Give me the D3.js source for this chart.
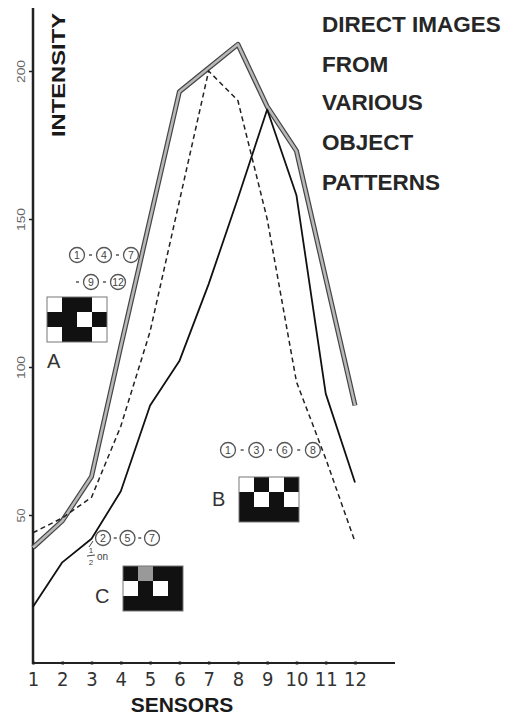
<!DOCTYPE html>
<html>
<head>
    <title>Direct images</title>
    <script src="https://d3js.org/d3.v7.min.js"></script>
    <style>
        body { margin: 0; background: #fff; }
    </style>
</head>
<body>
    <svg width="510" height="717" id="mainSvg"></svg>
    <script>
        // sensor positions and the three traces
        const sensors = [1, 2, 3, 4, 5, 6, 7, 8, 9, 10, 11, 12];
        const seriesA = [39, 48, 63, 107, 150, 193, 201, 209, 188, 173, 130, 87];
        const seriesDashed = [44, 49, 56, 80, 112, 156, 200, 190, 150, 95, 69, 41];
        const seriesSolid = [19, 34, 42, 58, 87, 102, 128, 157, 187, 158, 91, 61];
        const yTicks = [50, 100, 150, 200];
        const titleLines = ["DIRECT IMAGES", "FROM", "VARIOUS", "OBJECT", "PATTERNS"];

        // object patterns: 1 = dark, 0 = lit, 0.5 = half on
        const patternA = [[0, 1, 1, 0], [1, 1, 0, 1], [0, 1, 1, 0]];
        const patternB = [[0, 1, 0, 1], [1, 0, 1, 0], [1, 1, 1, 1]];
        const patternC = [[1, 0.5, 1, 1], [0, 1, 0, 1], [1, 1, 1, 1]];
        const labelsA = [[1, 4, 7], [9, 12]];
        const labelsB = [[1, 3, 6, 8]];
        const labelsC = [[2, 5, 7]];

        const svg = d3.select("#mainSvg");
        const font = "'Liberation Sans', Arial, sans-serif";

        const xScale = d3.scaleLinear().domain([1, 12]).range([33, 355]);
        const yScale = d3.scaleLinear().domain([0, 200]).range([663, 71]);

        // axes
        const yAxis = d3.axisLeft(yScale).tickValues(yTicks).tickSize(4).tickFormat(d3.format("d"));
        const yG = svg.append("g").attr("transform", "translate(33,0)").call(yAxis);
        yG.select(".domain").remove();
        yG.selectAll(".tick line").attr("stroke", "#222").attr("stroke-width", 1.5);
        yG.selectAll(".tick text")
            .attr("x", null).attr("dy", null)
            .attr("transform", "translate(-12,0) rotate(-90)")
            .attr("text-anchor", "middle")
            .attr("dominant-baseline", "central")
            .attr("font-family", font)
            .attr("font-size", 10)
            .attr("textLength", d => d < 100 ? 14 : 23)
            .attr("lengthAdjust", "spacingAndGlyphs")
            .attr("fill", "#666");

        const xAxis = d3.axisBottom(xScale).tickValues(sensors).tickSize(3);
        const xG = svg.append("g").attr("transform", "translate(0,663)").call(xAxis);
        xG.select(".domain").remove();
        xG.selectAll(".tick line").attr("stroke", "#222").attr("stroke-width", 2.5).attr("y1", -1.5).attr("y2", 1.5);
        xG.selectAll(".tick text")
            .attr("y", 23).attr("dy", null)
            .attr("font-family", "'Liberation Sans Narrow', 'DejaVu Sans Condensed', sans-serif")
            .attr("font-size", 20)
            .attr("fill", "#333");

        svg.append("line").attr("x1", 33).attr("x2", 33).attr("y1", 8).attr("y2", 664)
            .attr("stroke", "#222").attr("stroke-width", 2.5);
        svg.append("line").attr("x1", 32).attr("x2", 395).attr("y1", 663).attr("y2", 663)
            .attr("stroke", "#222").attr("stroke-width", 2.2);

        svg.append("text")
            .attr("transform", "translate(65,75) rotate(-90)")
            .attr("text-anchor", "middle")
            .attr("font-family", font).attr("font-weight", "bold")
            .attr("font-size", 18).attr("fill", "#1a1a1a")
            .attr("textLength", 124).attr("lengthAdjust", "spacingAndGlyphs")
            .text("INTENSITY");

        svg.append("text")
            .attr("x", 182).attr("y", 712)
            .attr("text-anchor", "middle")
            .attr("font-family", font).attr("font-weight", "bold")
            .attr("font-size", 21).attr("fill", "#1a1a1a")
            .text("SENSORS");

        svg.selectAll(".title")
            .data(titleLines)
            .join("text")
            .attr("class", "title")
            .attr("x", 322)
            .attr("y", (d, i) => [32, 72, 110, 150, 190][i])
            .attr("font-family", font).attr("font-weight", "bold")
            .attr("font-size", 22.5).attr("fill", "#262626")
            .text(d => d);

        // traces
        const line = d3.line().x((d, i) => xScale(sensors[i])).y(d => yScale(d));

        svg.append("path").datum(seriesA).attr("d", line)
            .attr("fill", "none").attr("stroke", "#444").attr("stroke-width", 5)
            .attr("stroke-linejoin", "round");
        svg.append("path").datum(seriesA).attr("d", line)
            .attr("fill", "none").attr("stroke", "#b8b8b8").attr("stroke-width", 2.6)
            .attr("stroke-linejoin", "round");
        svg.append("path").datum(seriesDashed).attr("d", line)
            .attr("fill", "none").attr("stroke", "#222").attr("stroke-width", 1.5)
            .attr("stroke-dasharray", "5,3.5");
        svg.append("path").datum(seriesSolid).attr("d", line)
            .attr("fill", "none").attr("stroke", "#111").attr("stroke-width", 1.8)
            .attr("stroke-linejoin", "round");

        // pattern grids
        const cell = 15;
        const drawGrid = function(pattern, x0, y0) {
            const g = svg.append("g").attr("transform", `translate(${x0},${y0})`);
            pattern.forEach((row, r) => {
                row.forEach((v, c) => {
                    g.append("rect")
                        .attr("x", c * cell).attr("y", r * cell)
                        .attr("width", cell).attr("height", cell)
                        .attr("fill", v === 1 ? "#111" : (v === 0 ? "#fff" : "#999"));
                });
            });
            g.append("rect")
                .attr("width", pattern[0].length * cell).attr("height", pattern.length * cell)
                .attr("fill", "none").attr("stroke", "#777").attr("stroke-width", 1);
        };
        drawGrid(patternA, 47, 297);
        drawGrid(patternB, 239, 477);
        drawGrid(patternC, 123, 566);

        // circled cell numbers
        const drawCircled = function(nums, x0, y, step, leadDash) {
            const g = svg.append("g");
            nums.forEach((n, i) => {
                const cx = x0 + i * step;
                g.append("circle").attr("cx", cx).attr("cy", y).attr("r", 7.5)
                    .attr("fill", "#fff").attr("stroke", "#555").attr("stroke-width", 1.3);
                g.append("text").attr("x", cx).attr("y", y + 3.8)
                    .attr("text-anchor", "middle")
                    .attr("font-family", font).attr("font-size", 10.5).attr("fill", "#444")
                    .text(n);
                if (i > 0 || leadDash) {
                    g.append("line")
                        .attr("x1", cx - step / 2 - 1.5).attr("x2", cx - step / 2 + 1.5)
                        .attr("y1", y).attr("y2", y)
                        .attr("stroke", "#555").attr("stroke-width", 1.5);
                }
            });
        };
        drawCircled(labelsA[0], 77, 255, 27, false);
        drawCircled(labelsA[1], 91, 282, 27, true);
        drawCircled(labelsB[0], 228, 450, 28.3, false);
        drawCircled(labelsC[0], 103, 538, 24.5, false);

        // pattern letters
        const letters = [["A", 47, 368], ["B", 212, 506], ["C", 95, 603]];
        svg.selectAll(".letter")
            .data(letters)
            .join("text")
            .attr("class", "letter")
            .attr("x", d => d[1]).attr("y", d => d[2])
            .attr("font-family", font).attr("font-size", 20).attr("fill", "#333")
            .text(d => d[0]);

        // "1/2 on" note for pattern C
        const note = svg.append("g").attr("font-family", font).attr("fill", "#444");
        note.append("text").attr("x", 91).attr("y", 553).attr("font-size", 8).attr("text-anchor", "middle").text("1");
        note.append("line").attr("x1", 87).attr("x2", 95).attr("y1", 556).attr("y2", 555)
            .attr("stroke", "#444").attr("stroke-width", 1);
        note.append("text").attr("x", 91).attr("y", 565).attr("font-size", 8).attr("text-anchor", "middle").text("2");
        note.append("text").attr("x", 97).attr("y", 560).attr("font-size", 10).text("on");
        note.append("line").attr("x1", 89).attr("x2", 93).attr("y1", 547).attr("y2", 541)
            .attr("stroke", "#444").attr("stroke-width", 1);
    </script>
</body>
</html>
